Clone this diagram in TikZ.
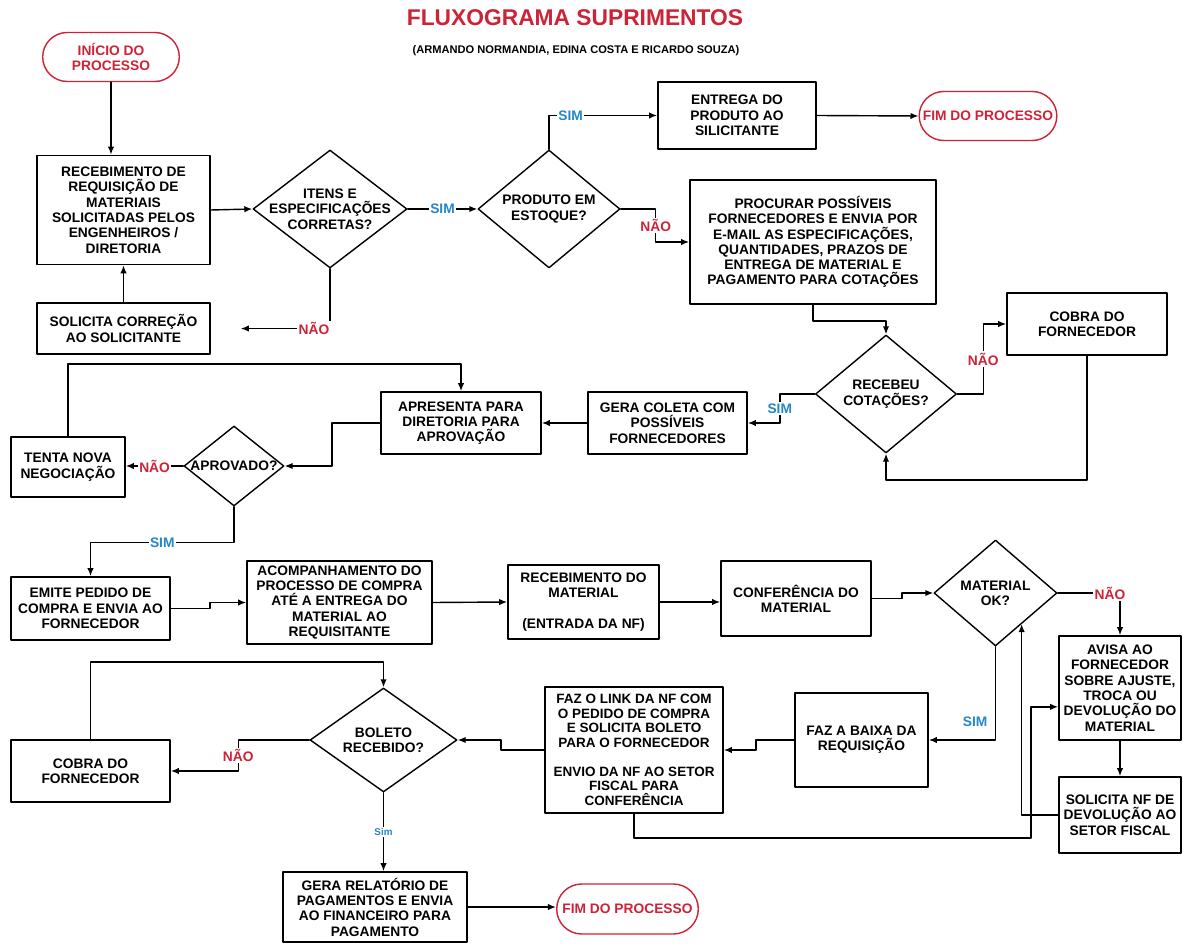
\documentclass[tikz,border=0pt]{standalone}
\usepackage{fontspec}
\setmainfont{Liberation Sans}
\usetikzlibrary{shapes.geometric,shapes.misc,arrows.meta,calc}
\definecolor{fxred}{RGB}{205,35,55}
\definecolor{fxblue}{RGB}{35,135,200}
\tikzset{
	wh/.style 2 args={minimum width=#1*0.025cm, minimum height=#2*0.025cm},
	txt/.style={font=\bfseries\fontsize{9.8}{10.9}\selectfont},
	box/.style={txt, draw, line width=1.2pt, align=center, inner sep=1pt},
	dec/.style={diamond, draw, line width=1pt, inner sep=0pt},
	term/.style={txt, rounded rectangle, draw=fxred, line width=1pt, text=fxred, align=center},
	sim/.style={txt, text=fxblue, fill=white, inner sep=1pt},
	nao/.style={txt, text=fxred, fill=white, inner sep=1pt}
}
\begin{document}
\begin{tikzpicture}[x=0.025cm, y=-0.025cm, >={Latex[length=2mm,width=1.6mm]}, line join=round, line cap=round, line width=1pt]
	\useasboundingbox (0,0) rectangle (1183,944);
	% titulo
	\node[text=fxred, font=\bfseries\fontsize{16.2}{19}\selectfont] (titulo) at (575,18) {FLUXOGRAMA SUPRIMENTOS};
	\node[font=\bfseries\fontsize{7.9}{9}\selectfont] (autores) at (576,51) {(ARMANDO NORMANDIA, EDINA COSTA E RICARDO SOUZA)};
	% linha 1
	\node[term, wh={146}{49}] (ini) at (111,57) {INÍCIO DO\\PROCESSO};
	\node[box, wh={173}{109}] (receb) at (123.5,210) {RECEBIMENTO DE\\REQUISIÇÃO DE\\MATERIAIS\\SOLICITADAS PELOS\\ENGENHEIROS /\\DIRETORIA};
	\node[box, wh={173}{51}] (corr) at (123.5,328.5) {SOLICITA CORREÇÃO\\AO SOLICITANTE};
	\node[dec, wh={154}{118}, label={[txt, align=center]center:{ITENS E\\ESPECIFICAÇÕES\\CORRETAS?}}] (itens) at (330,209) {};
	\node[dec, wh={142}{118}, label={[txt, align=center]center:{PRODUTO EM\\ESTOQUE?}}] (prod) at (549,209) {};
	\node[box, wh={158}{67}] (entrega) at (737,115.5) {ENTREGA DO\\PRODUTO AO\\SILICITANTE};
	\node[term, wh={147}{49}] (fim1) at (988,116) {FIM DO PROCESSO};
	\node[box, wh={246}{124}] (procurar) at (813,242) {PROCURAR POSSÍVEIS\\FORNECEDORES E ENVIA POR\\E-MAIL AS ESPECIFICAÇÕES,\\QUANTIDADES, PRAZOS DE\\ENTREGA DE MATERIAL E\\PAGAMENTO PARA COTAÇÕES};
	% linha 2
	\node[dec, wh={141}{118}, label={[txt, align=center]center:{RECEBEU\\COTAÇÕES?}}] (recebeu) at (886,394) {};
	\node[box, wh={160}{62}] (cobra1) at (1087,324) {COBRA DO\\FORNECEDOR};
	\node[box, wh={159}{62}] (coleta) at (667.5,423) {GERA COLETA COM\\POSSÍVEIS\\FORNECEDORES};
	\node[box, wh={160}{62}] (apres) at (461,423) {APRESENTA PARA\\DIRETORIA PARA\\APROVAÇÃO};
	\node[dec, wh={100}{80}, label={[txt]center:APROVADO?}] (aprov) at (234,466) {};
	\node[box, wh={114}{60}] (tenta) at (68,467) {TENTA NOVA\\NEGOCIAÇÃO};
	% linha 3
	\node[box, wh={159}{63}] (emite) at (90.5,608.5) {EMITE PEDIDO DE\\COMPRA E ENVIA AO\\FORNECEDOR};
	\node[box, wh={185}{83}] (acomp) at (339.5,602.5) {ACOMPANHAMENTO DO\\PROCESSO DE COMPRA\\ATÉ A ENTREGA DO\\MATERIAL AO\\REQUISITANTE};
	\node[box, wh={151}{74}] (recmat) at (583.5,602) {RECEBIMENTO DO\\MATERIAL\\ \\(ENTRADA DA NF)};
	\node[box, wh={150}{75}] (conf) at (796,598.5) {CONFERÊNCIA DO\\MATERIAL};
	\node[dec, wh={123}{106}, label={[txt, align=center]center:{MATERIAL\\OK?}}] (matok) at (995.5,593) {};
	\node[box, wh={122}{104}] (avisa) at (1120,688) {AVISA AO\\FORNECEDOR\\SOBRE AJUSTE,\\TROCA OU\\DEVOLUÇÃO DO\\MATERIAL};
	\node[box, wh={122}{76}] (solnf) at (1120,815) {SOLICITA NF DE\\DEVOLUÇÃO AO\\SETOR FISCAL};
	% linha 4
	\node[box, wh={133}{94}] (baixa) at (861.5,740) {FAZ A BAIXA DA\\REQUISIÇÃO};
	\node[box, wh={178}{126}, font=\bfseries\fontsize{9.6}{10.3}\selectfont] (link) at (634,750) {FAZ O LINK DA NF COM\\O PEDIDO DE COMPRA\\E SOLICITA BOLETO\\PARA O FORNECEDOR\\ \\ENVIO DA NF AO SETOR\\FISCAL PARA\\CONFERÊNCIA};
	\node[dec, wh={147}{104}, label={[txt, align=center]center:{BOLETO\\RECEBIDO?}}] (boleto) at (383.5,740) {};
	\node[box, wh={159}{62}] (cobra2) at (90.5,771) {COBRA DO\\FORNECEDOR};
	\node[box, wh={184}{70}] (gera) at (375,907) {GERA RELATÓRIO DE\\PAGAMENTOS E ENVIA\\AO FINANCEIRO PARA\\PAGAMENTO};
	\node[term, wh={151}{50}] (fim2) at (627.5,909) {FIM DO PROCESSO};
	% conectores
	\draw[->] (ini.south) -- (ini.south |- receb.north);
	\draw[->] (receb.east) -- (itens.west);
	\draw[->] (corr.north) -- (receb.south);
	\draw[->, shorten >=0.75cm] (itens.south) |- node[nao, pos=0.5, anchor=east, xshift=1pt] {NÃO} (corr.east);
	\draw[->] (itens.east) -- node[sim] {SIM} (prod.west);
	\draw[->] (prod.north) |- node[sim, pos=0.6] {SIM} (entrega.west);
	\draw[->] (entrega.east) -- (fim1.west);
	\draw[->] (prod.east) -- ++(35,0) |- node[nao, pos=0.25] {NÃO} (procurar.west);
	\draw[->] (procurar.south) -- ++(0,16) -| (recebeu.north);
	\draw[->] (recebeu.east) -- ++(26,0) |- node[nao, pos=0.25] {NÃO} (cobra1.west);
	\draw[->] (cobra1.south) -- ++(0,124) -| (recebeu.south);
	\draw[->] (recebeu.west) -- ++(-35,0) |- node[sim, pos=0.25] {SIM} (coleta.east);
	\draw[->] (coleta.west) -- (apres.east);
	\draw[->] (apres.west) -- ++(-48,0) |- (aprov.east);
	\draw[->] (aprov.west) -- node[nao] {NÃO} (aprov.west -| tenta.east);
	\draw[->] (tenta.north) -- ++(0,-72) -| (apres.north);
	\draw[->] (aprov.south) -- ++(0,36) -| node[sim, pos=0.25] {SIM} (emite.north);
	\draw[->] (emite.east) -- ++(39,0) |- (acomp.west);
	\draw[->] (acomp.east) -- (recmat.west);
	\draw[->] (recmat.east) -- (recmat.east -| conf.west);
	\draw[->] (conf.east) -- ++(30,0) |- (matok.west);
	\draw[->] (matok.east) -| node[nao, pos=0.42] {NÃO} (avisa.north);
	\draw[->] (avisa.south) -- (solnf.north);
	\draw[->] (solnf.west) -| (matok.-50);
	\draw[->] (matok.south) |- node[txt, text=fxblue, pos=0.4, left=2pt] {SIM} (baixa.east);
	\draw[->] (baixa.west) -- ++(-38,0) |- (link.east);
	\draw[->] (link.south) -- ++(0,24) -| ($(avisa.south west)+(-27,-34)$) -- ($(avisa.south west)+(0,-34)$);
	\draw[->] (link.west) -- ++(-43,0) |- (boleto.east);
	\draw[->] (boleto.west) -- ++(-71,0) |- node[nao, pos=0.25] {NÃO} (cobra2.east);
	\draw[->] (cobra2.north) -- ++(0,-77) -| (boleto.north);
	\draw[->] (boleto.south) -- node[sim, font=\bfseries\fontsize{7}{8}\selectfont] {Sim} (boleto.south |- gera.north);
	\draw[->] (gera.east) -- (gera.east -| fim2.west);
\end{tikzpicture}
\end{document}
